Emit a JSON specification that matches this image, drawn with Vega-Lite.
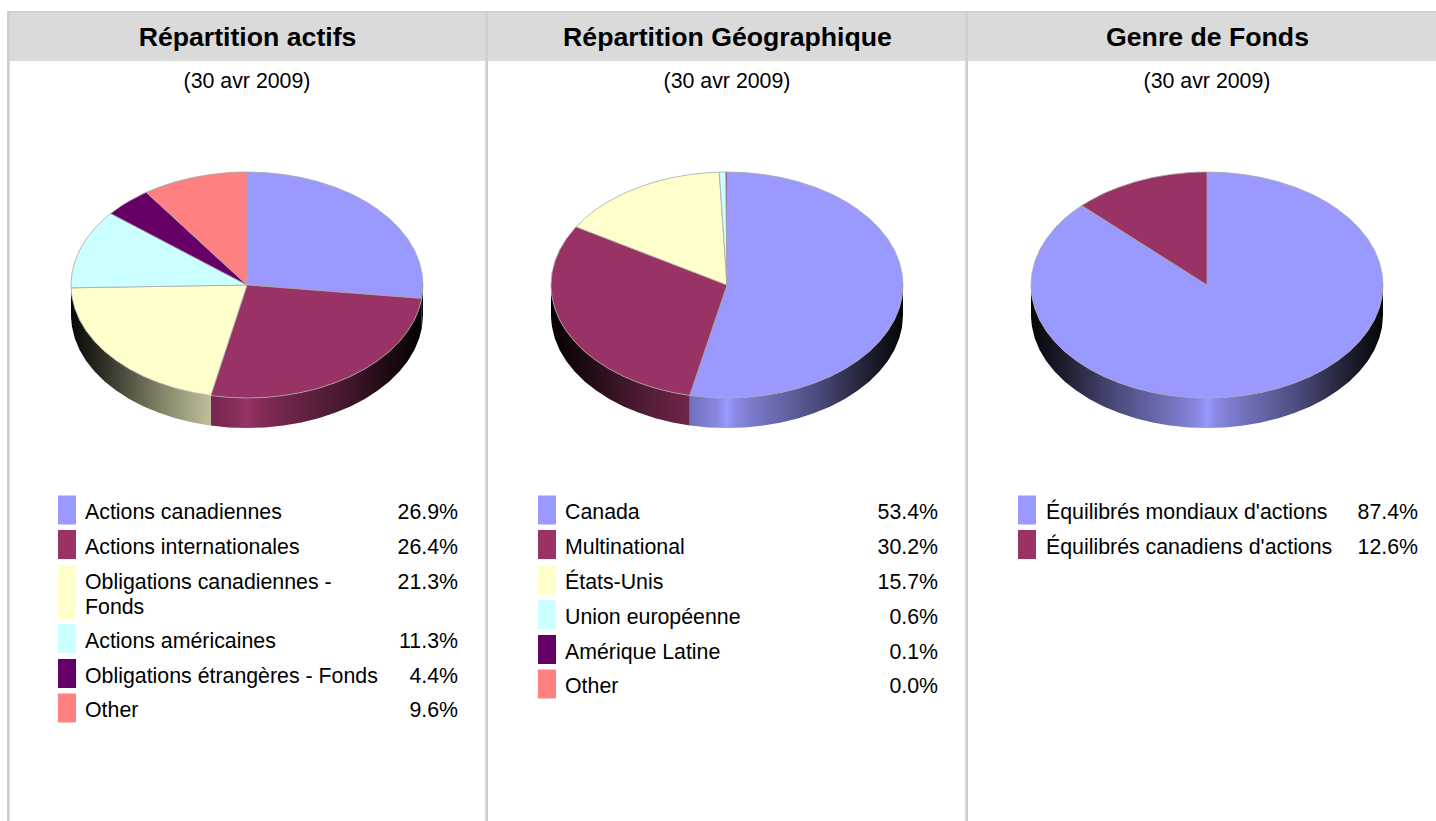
{"$schema":"https://vega.github.io/schema/vega-lite/v6.json","padding":0,"background":"white","spacing":0,"config":{"view":{"stroke":null},"concat":{"spacing":0},"text":{"font":"Liberation Sans"}},
"datasets":{"cercle":[{"a":-1,"ux":0,"uy":0,"ub":0},{"a":0,"ux":0,"uy":1,"ub":0},{"a":6,"ux":0.1045,"uy":0.9945,"ub":0},{"a":12,"ux":0.2079,"uy":0.9781,"ub":0},{"a":18,"ux":0.309,"uy":0.9511,"ub":0},{"a":24,"ux":0.4067,"uy":0.9135,"ub":0},{"a":30,"ux":0.5,"uy":0.866,"ub":0},{"a":36,"ux":0.5878,"uy":0.809,"ub":0},{"a":42,"ux":0.6691,"uy":0.7431,"ub":0},{"a":48,"ux":0.7431,"uy":0.6691,"ub":0},{"a":54,"ux":0.809,"uy":0.5878,"ub":0},{"a":60,"ux":0.866,"uy":0.5,"ub":0},{"a":66,"ux":0.9135,"uy":0.4067,"ub":0},{"a":72,"ux":0.9511,"uy":0.309,"ub":0},{"a":78,"ux":0.9781,"uy":0.2079,"ub":0},{"a":84,"ux":0.9945,"uy":0.1045,"ub":0},{"a":90,"ux":1,"uy":0,"ub":-0.2655},{"a":96,"ux":0.9945,"uy":-0.1045,"ub":-0.37},{"a":96.84,"ux":0.9929,"uy":-0.1191,"ub":-0.3846},{"a":102,"ux":0.9781,"uy":-0.2079,"ub":-0.4734},{"a":108,"ux":0.9511,"uy":-0.309,"ub":-0.5745},{"a":114,"ux":0.9135,"uy":-0.4067,"ub":-0.6722},{"a":120,"ux":0.866,"uy":-0.5,"ub":-0.7655},{"a":126,"ux":0.809,"uy":-0.5878,"ub":-0.8533},{"a":132,"ux":0.7431,"uy":-0.6691,"ub":-0.9346},{"a":138,"ux":0.6691,"uy":-0.7431,"ub":-1.0086},{"a":144,"ux":0.5878,"uy":-0.809,"ub":-1.0745},{"a":150,"ux":0.5,"uy":-0.866,"ub":-1.1315},{"a":156,"ux":0.4067,"uy":-0.9135,"ub":-1.179},{"a":162,"ux":0.309,"uy":-0.9511,"ub":-1.2166},{"a":168,"ux":0.2079,"uy":-0.9781,"ub":-1.2436},{"a":174,"ux":0.1045,"uy":-0.9945,"ub":-1.26},{"a":180,"ux":0,"uy":-1,"ub":-1.2655},{"a":186,"ux":-0.1045,"uy":-0.9945,"ub":-1.26},{"a":191.88,"ux":-0.2059,"uy":-0.9786,"ub":-1.2441},{"a":192,"ux":-0.2079,"uy":-0.9781,"ub":-1.2436},{"a":192.24,"ux":-0.212,"uy":-0.9773,"ub":-1.2428},{"a":198,"ux":-0.309,"uy":-0.9511,"ub":-1.2166},{"a":204,"ux":-0.4067,"uy":-0.9135,"ub":-1.179},{"a":210,"ux":-0.5,"uy":-0.866,"ub":-1.1315},{"a":216,"ux":-0.5878,"uy":-0.809,"ub":-1.0745},{"a":222,"ux":-0.6691,"uy":-0.7431,"ub":-1.0086},{"a":228,"ux":-0.7431,"uy":-0.6691,"ub":-0.9346},{"a":234,"ux":-0.809,"uy":-0.5878,"ub":-0.8533},{"a":240,"ux":-0.866,"uy":-0.5,"ub":-0.7655},{"a":246,"ux":-0.9135,"uy":-0.4067,"ub":-0.6722},{"a":252,"ux":-0.9511,"uy":-0.309,"ub":-0.5745},{"a":258,"ux":-0.9781,"uy":-0.2079,"ub":-0.4734},{"a":264,"ux":-0.9945,"uy":-0.1045,"ub":-0.37},{"a":268.56,"ux":-0.9997,"uy":-0.0251,"ub":-0.2906},{"a":270,"ux":-1,"uy":0,"ub":-0.2655},{"a":276,"ux":-0.9945,"uy":0.1045,"ub":0},{"a":282,"ux":-0.9781,"uy":0.2079,"ub":0},{"a":288,"ux":-0.9511,"uy":0.309,"ub":0},{"a":294,"ux":-0.9135,"uy":0.4067,"ub":0},{"a":300,"ux":-0.866,"uy":0.5,"ub":0},{"a":300.96,"ux":-0.8575,"uy":0.5145,"ub":0},{"a":306,"ux":-0.809,"uy":0.5878,"ub":0},{"a":309.24,"ux":-0.7745,"uy":0.6325,"ub":0},{"a":312,"ux":-0.7431,"uy":0.6691,"ub":0},{"a":314.64,"ux":-0.7115,"uy":0.7027,"ub":0},{"a":318,"ux":-0.6691,"uy":0.7431,"ub":0},{"a":324,"ux":-0.5878,"uy":0.809,"ub":0},{"a":325.08,"ux":-0.5725,"uy":0.82,"ub":0},{"a":330,"ux":-0.5,"uy":0.866,"ub":0},{"a":336,"ux":-0.4067,"uy":0.9135,"ub":0},{"a":342,"ux":-0.309,"uy":0.9511,"ub":0},{"a":348,"ux":-0.2079,"uy":0.9781,"ub":0},{"a":354,"ux":-0.1045,"uy":0.9945,"ub":0},{"a":357.48,"ux":-0.044,"uy":0.999,"ub":0},{"a":359.64,"ux":-0.0063,"uy":1,"ub":0},{"a":360,"ux":0,"uy":1,"ub":0},{"a":999,"ux":0,"uy":0,"ub":0}]},
"hconcat":[
{"vconcat":[
{"width":488,"height":490,"data":{"name":"cercle"},
"encoding":{"x":{"field":"ux","type":"quantitative","axis":null,"scale":{"domain":[-1,1],"range":[71,423]}},"y":{"field":"uy","type":"quantitative","axis":null,"scale":{"domain":[-1,1],"range":[398,172]}}},
"layer":[
{"data":{"values":[{"d":1}]},"mark":{"type":"rect","fill":"#dadada"},"encoding":{"x":{"value":7},"x2":{"value":486},"y":{"value":12},"y2":{"value":61}}},
{"data":{"values":[{"d":1}]},"mark":{"type":"rect","fill":"#d0d0d0"},"encoding":{"x":{"value":7},"x2":{"value":488},"y":{"value":11},"y2":{"value":13}}},
{"data":{"values":[{"d":1}]},"mark":{"type":"rect","fill":"#cfcfcf"},"encoding":{"x":{"value":7},"x2":{"value":9.7},"y":{"value":11},"y2":{"value":490}}},
{"data":{"values":[{"d":1}]},"mark":{"type":"rect","fill":"#cfcfcf"},"encoding":{"x":{"value":485.3},"x2":{"value":488},"y":{"value":11},"y2":{"value":490}}},
{"data":{"values":[{"titre":"Répartition actifs"}]},"mark":{"type":"text","fontSize":26.67,"fontWeight":"bold","align":"center","baseline":"middle","font":"Liberation Sans","color":"#000"},"encoding":{"x":{"value":247.5},"y":{"value":38},"text":{"field":"titre"}}},
{"data":{"values":[{"date":"(30 avr 2009)"}]},"mark":{"type":"text","fontSize":21.33,"align":"center","baseline":"middle","font":"Liberation Sans","color":"#000"},"encoding":{"x":{"value":247},"y":{"value":82},"text":{"field":"date"}}},
{"transform":[{"filter":"datum.a>=90 && datum.a<=96.84"}],"mark":{"type":"area","fill":"#050508"},"encoding":{"y2":{"field":"ub"}}},
{"transform":[{"filter":"datum.a>=96.84 && datum.a<=191.88"}],"mark":{"type":"area","fill":{"gradient":"linear","stops":[{"offset":0,"color":"#73264D"},{"offset":0.12,"color":"#872D5A"},{"offset":0.17,"color":"#993366"},{"offset":0.22,"color":"#872D5A"},{"offset":0.336,"color":"#73264D"},{"offset":0.585,"color":"#4D1A33"},{"offset":0.834,"color":"#1F0A14"},{"offset":1,"color":"#050203"}]}},"encoding":{"y2":{"field":"ub"}}},
{"transform":[{"filter":"datum.a>=191.88 && datum.a<=270"}],"mark":{"type":"area","fill":{"gradient":"linear","stops":[{"offset":0,"color":"#080806"},{"offset":0.2514,"color":"#333329"},{"offset":0.6285,"color":"#808066"},{"offset":1,"color":"#BFBF99"}]}},"encoding":{"y2":{"field":"ub"}}},
{"transform":[{"filter":"datum.a==-1||datum.a==999||(datum.a>=0&&datum.a<=96.84)"}],"mark":{"type":"line","fill":"#9999FF","stroke":"#a8a8a8","strokeWidth":0.8},"encoding":{"order":{"field":"a","type":"quantitative"}}},
{"transform":[{"filter":"datum.a==-1||datum.a==999||(datum.a>=96.84&&datum.a<=191.88)"}],"mark":{"type":"line","fill":"#993366","stroke":"#a8a8a8","strokeWidth":0.8},"encoding":{"order":{"field":"a","type":"quantitative"}}},
{"transform":[{"filter":"datum.a==-1||datum.a==999||(datum.a>=191.88&&datum.a<=268.56)"}],"mark":{"type":"line","fill":"#FFFFCC","stroke":"#a8a8a8","strokeWidth":0.8},"encoding":{"order":{"field":"a","type":"quantitative"}}},
{"transform":[{"filter":"datum.a==-1||datum.a==999||(datum.a>=268.56&&datum.a<=309.24)"}],"mark":{"type":"line","fill":"#CCFFFF","stroke":"#a8a8a8","strokeWidth":0.8},"encoding":{"order":{"field":"a","type":"quantitative"}}},
{"transform":[{"filter":"datum.a==-1||datum.a==999||(datum.a>=309.24&&datum.a<=325.08)"}],"mark":{"type":"line","fill":"#660066","stroke":"#a8a8a8","strokeWidth":0.8},"encoding":{"order":{"field":"a","type":"quantitative"}}},
{"transform":[{"filter":"datum.a==-1||datum.a==999||(datum.a>=325.08&&datum.a<=360)"}],"mark":{"type":"line","fill":"#FF8080","stroke":"#a8a8a8","strokeWidth":0.8},"encoding":{"order":{"field":"a","type":"quantitative"}}}
]},
{"width":488,"height":331,"data":{"values":[
{"rang":1,"libelle":"Actions canadiennes","part":"26.9%","lignes":1},
{"rang":2,"libelle":"Actions internationales","part":"26.4%","lignes":1},
{"rang":3,"libelle":["Obligations canadiennes -","Fonds"],"part":"21.3%","lignes":2},
{"rang":4,"libelle":"Actions américaines","part":"11.3%","lignes":1},
{"rang":5,"libelle":"Obligations étrangères - Fonds","part":"4.4%","lignes":1},
{"rang":6,"libelle":"Other","part":"9.6%","lignes":1}]},
"encoding":{"y":{"field":"rang","type":"quantitative","axis":null,"scale":{"domain":[1,2,3,4,5,6],"range":[20,54.5,102,148.5,183.5,218]}},"color":{"field":"rang","type":"ordinal","legend":null,"scale":{"domain":[1,2,3,4,5,6],"range":["#9999FF","#993366","#FFFFCC","#CCFFFF","#660066","#FF8080"]}}},
"layer":[
{"data":{"values":[{"d":1}]},"mark":{"type":"rect","fill":"#cfcfcf"},"encoding":{"color":{"value":"#cfcfcf"},"x":{"value":7},"x2":{"value":9.7},"y":{"value":0},"y2":{"value":331}}},
{"data":{"values":[{"d":1}]},"mark":{"type":"rect","fill":"#cfcfcf"},"encoding":{"color":{"value":"#cfcfcf"},"x":{"value":485.3},"x2":{"value":488},"y":{"value":0},"y2":{"value":331}}},
{"transform":[{"filter":"datum.lignes==1"}],"mark":{"type":"rect","height":29},"encoding":{"x":{"value":58},"x2":{"value":76}}},
{"transform":[{"filter":"datum.lignes==2"}],"mark":{"type":"rect","height":54},"encoding":{"x":{"value":58},"x2":{"value":76}}},
{"transform":[{"filter":"datum.lignes==1"}],"mark":{"type":"text","fontSize":21.33,"align":"left","baseline":"middle","font":"Liberation Sans","dy":3},"encoding":{"color":{"value":"#000"},"x":{"value":85},"text":{"field":"libelle"}}},
{"transform":[{"filter":"datum.lignes==2"}],"mark":{"type":"text","fontSize":21.33,"align":"left","baseline":"middle","lineHeight":25,"font":"Liberation Sans","dy":-9},"encoding":{"color":{"value":"#000"},"x":{"value":85},"text":{"field":"libelle"}}},
{"transform":[{"filter":"datum.lignes==1"}],"mark":{"type":"text","fontSize":21.33,"align":"right","baseline":"middle","font":"Liberation Sans","dy":3},"encoding":{"color":{"value":"#000"},"x":{"value":458},"text":{"field":"part"}}},
{"transform":[{"filter":"datum.lignes==2"}],"mark":{"type":"text","fontSize":21.33,"align":"right","baseline":"middle","font":"Liberation Sans","dy":-9},"encoding":{"color":{"value":"#000"},"x":{"value":458},"text":{"field":"part"}}}
]}
]},
{"vconcat":[
{"width":480,"height":490,"data":{"name":"cercle"},
"encoding":{"x":{"field":"ux","type":"quantitative","axis":null,"scale":{"domain":[-1,1],"range":[63,415]}},"y":{"field":"uy","type":"quantitative","axis":null,"scale":{"domain":[-1,1],"range":[398,172]}}},
"layer":[
{"data":{"values":[{"d":1}]},"mark":{"type":"rect","fill":"#dadada"},"encoding":{"x":{"value":0},"x2":{"value":478},"y":{"value":12},"y2":{"value":61}}},
{"data":{"values":[{"d":1}]},"mark":{"type":"rect","fill":"#d0d0d0"},"encoding":{"x":{"value":0},"x2":{"value":480},"y":{"value":11},"y2":{"value":13}}},
{"data":{"values":[{"d":1}]},"mark":{"type":"rect","fill":"#cfcfcf"},"encoding":{"x":{"value":477.3},"x2":{"value":480},"y":{"value":11},"y2":{"value":490}}},
{"data":{"values":[{"titre":"Répartition Géographique"}]},"mark":{"type":"text","fontSize":26.67,"fontWeight":"bold","align":"center","baseline":"middle","font":"Liberation Sans","color":"#000"},"encoding":{"x":{"value":239.5},"y":{"value":38},"text":{"field":"titre"}}},
{"data":{"values":[{"date":"(30 avr 2009)"}]},"mark":{"type":"text","fontSize":21.33,"align":"center","baseline":"middle","font":"Liberation Sans","color":"#000"},"encoding":{"x":{"value":239},"y":{"value":82},"text":{"field":"date"}}},
{"transform":[{"filter":"datum.a>=90 && datum.a<=192.24"}],"mark":{"type":"area","fill":{"gradient":"linear","stops":[{"offset":0,"color":"#7070BD"},{"offset":0.125,"color":"#8787E0"},{"offset":0.174,"color":"#9999FF"},{"offset":0.224,"color":"#8787E0"},{"offset":0.339,"color":"#7373BF"},{"offset":0.587,"color":"#4D4D80"},{"offset":0.835,"color":"#1F1F33"},{"offset":1,"color":"#050508"}]}},"encoding":{"y2":{"field":"ub"}}},
{"transform":[{"filter":"datum.a>=192.24 && datum.a<=270"}],"mark":{"type":"area","fill":{"gradient":"linear","stops":[{"offset":0,"color":"#050203"},{"offset":0.2535,"color":"#1F0A14"},{"offset":0.6337,"color":"#4D1A33"},{"offset":1,"color":"#71254B"}]}},"encoding":{"y2":{"field":"ub"}}},
{"transform":[{"filter":"datum.a==-1||datum.a==999||(datum.a>=0&&datum.a<=192.24)"}],"mark":{"type":"line","fill":"#9999FF","stroke":"#a8a8a8","strokeWidth":0.8},"encoding":{"order":{"field":"a","type":"quantitative"}}},
{"transform":[{"filter":"datum.a==-1||datum.a==999||(datum.a>=192.24&&datum.a<=300.96)"}],"mark":{"type":"line","fill":"#993366","stroke":"#a8a8a8","strokeWidth":0.8},"encoding":{"order":{"field":"a","type":"quantitative"}}},
{"transform":[{"filter":"datum.a==-1||datum.a==999||(datum.a>=300.96&&datum.a<=357.48)"}],"mark":{"type":"line","fill":"#FFFFCC","stroke":"#a8a8a8","strokeWidth":0.8},"encoding":{"order":{"field":"a","type":"quantitative"}}},
{"transform":[{"filter":"datum.a==-1||datum.a==999||(datum.a>=357.48&&datum.a<=359.64)"}],"mark":{"type":"line","fill":"#CCFFFF","stroke":"#a8a8a8","strokeWidth":0.8},"encoding":{"order":{"field":"a","type":"quantitative"}}},
{"transform":[{"filter":"datum.a==-1||datum.a==999||(datum.a>=359.64&&datum.a<=360)"}],"mark":{"type":"line","fill":"#660066","stroke":"#a8a8a8","strokeWidth":0.8},"encoding":{"order":{"field":"a","type":"quantitative"}}}
]},
{"width":480,"height":331,"data":{"values":[
{"rang":1,"libelle":"Canada","part":"53.4%"},
{"rang":2,"libelle":"Multinational","part":"30.2%"},
{"rang":3,"libelle":"États-Unis","part":"15.7%"},
{"rang":4,"libelle":"Union européenne","part":"0.6%"},
{"rang":5,"libelle":"Amérique Latine","part":"0.1%"},
{"rang":6,"libelle":"Other","part":"0.0%"}]},
"encoding":{"y":{"field":"rang","type":"quantitative","axis":null,"scale":{"domain":[1,2,3,4,5,6],"range":[20,54.5,90,124.5,159.5,194]}},"color":{"field":"rang","type":"ordinal","legend":null,"scale":{"domain":[1,2,3,4,5,6],"range":["#9999FF","#993366","#FFFFCC","#CCFFFF","#660066","#FF8080"]}}},
"layer":[
{"data":{"values":[{"d":1}]},"mark":{"type":"rect","fill":"#cfcfcf"},"encoding":{"color":{"value":"#cfcfcf"},"x":{"value":477.3},"x2":{"value":480},"y":{"value":0},"y2":{"value":331}}},
{"mark":{"type":"rect","height":29},"encoding":{"x":{"value":50},"x2":{"value":68}}},
{"mark":{"type":"text","fontSize":21.33,"align":"left","baseline":"middle","font":"Liberation Sans","dy":3},"encoding":{"color":{"value":"#000"},"x":{"value":77},"text":{"field":"libelle"}}},
{"mark":{"type":"text","fontSize":21.33,"align":"right","baseline":"middle","font":"Liberation Sans","dy":3},"encoding":{"color":{"value":"#000"},"x":{"value":450},"text":{"field":"part"}}}
]}
]},
{"vconcat":[
{"width":468,"height":490,"data":{"name":"cercle"},
"encoding":{"x":{"field":"ux","type":"quantitative","axis":null,"scale":{"domain":[-1,1],"range":[63,415]}},"y":{"field":"uy","type":"quantitative","axis":null,"scale":{"domain":[-1,1],"range":[398,172]}}},
"layer":[
{"data":{"values":[{"d":1}]},"mark":{"type":"rect","fill":"#dadada"},"encoding":{"x":{"value":0},"x2":{"value":468},"y":{"value":12},"y2":{"value":61}}},
{"data":{"values":[{"d":1}]},"mark":{"type":"rect","fill":"#d0d0d0"},"encoding":{"x":{"value":0},"x2":{"value":468},"y":{"value":11},"y2":{"value":13}}},
{"data":{"values":[{"titre":"Genre de Fonds"}]},"mark":{"type":"text","fontSize":26.67,"fontWeight":"bold","align":"center","baseline":"middle","font":"Liberation Sans","color":"#000"},"encoding":{"x":{"value":239.5},"y":{"value":38},"text":{"field":"titre"}}},
{"data":{"values":[{"date":"(30 avr 2009)"}]},"mark":{"type":"text","fontSize":21.33,"align":"center","baseline":"middle","font":"Liberation Sans","color":"#000"},"encoding":{"x":{"value":239},"y":{"value":82},"text":{"field":"date"}}},
{"transform":[{"filter":"datum.a>=90 && datum.a<=270"}],"mark":{"type":"area","fill":{"gradient":"linear","stops":[{"offset":0,"color":"#050508"},{"offset":0.1,"color":"#1F1F33"},{"offset":0.25,"color":"#4D4D80"},{"offset":0.4,"color":"#7373BF"},{"offset":0.47,"color":"#8787E0"},{"offset":0.5,"color":"#9999FF"},{"offset":0.53,"color":"#8787E0"},{"offset":0.6,"color":"#7373BF"},{"offset":0.75,"color":"#4D4D80"},{"offset":0.9,"color":"#1F1F33"},{"offset":1,"color":"#050508"}]}},"encoding":{"y2":{"field":"ub"}}},
{"transform":[{"filter":"datum.a==-1||datum.a==999||(datum.a>=0&&datum.a<=314.64)"}],"mark":{"type":"line","fill":"#9999FF","stroke":"#a8a8a8","strokeWidth":0.8},"encoding":{"order":{"field":"a","type":"quantitative"}}},
{"transform":[{"filter":"datum.a==-1||datum.a==999||(datum.a>=314.64&&datum.a<=360)"}],"mark":{"type":"line","fill":"#993366","stroke":"#a8a8a8","strokeWidth":0.8},"encoding":{"order":{"field":"a","type":"quantitative"}}}
]},
{"width":468,"height":331,"data":{"values":[
{"rang":1,"libelle":"Équilibrés mondiaux d'actions","part":"87.4%"},
{"rang":2,"libelle":"Équilibrés canadiens d'actions","part":"12.6%"}]},
"encoding":{"y":{"field":"rang","type":"quantitative","axis":null,"scale":{"domain":[1,2],"range":[20,54.5]}},"color":{"field":"rang","type":"ordinal","legend":null,"scale":{"domain":[1,2],"range":["#9999FF","#993366"]}}},
"layer":[
{"mark":{"type":"rect","height":29},"encoding":{"x":{"value":50},"x2":{"value":68}}},
{"mark":{"type":"text","fontSize":21.33,"align":"left","baseline":"middle","font":"Liberation Sans","dy":3},"encoding":{"color":{"value":"#000"},"x":{"value":78},"text":{"field":"libelle"}}},
{"mark":{"type":"text","fontSize":21.33,"align":"right","baseline":"middle","font":"Liberation Sans","dy":3},"encoding":{"color":{"value":"#000"},"x":{"value":450},"text":{"field":"part"}}}
]}
]}
]}
